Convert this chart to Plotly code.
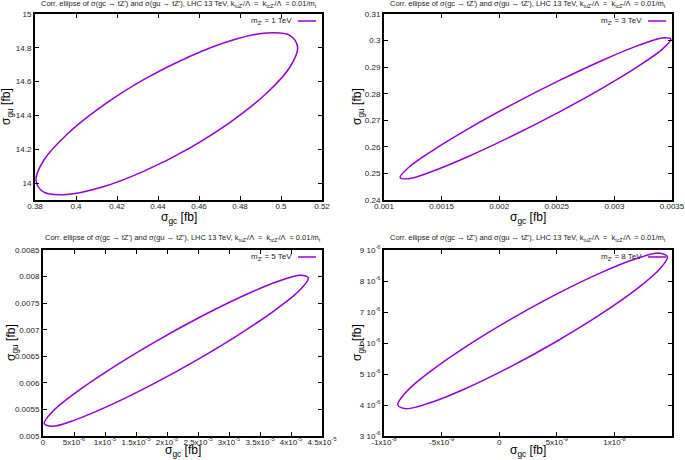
import plotly.graph_objects as go

# points (closed: first point repeated)
gc_1tev = [0.5081, 0.5043, 0.4932, 0.4762, 0.4554, 0.4332, 0.4124, 0.3954, 0.3843,
           0.3805, 0.3843, 0.3954, 0.4124, 0.4332, 0.4554, 0.4762, 0.4932, 0.5043, 0.5081]
gu_1tev = [14.803, 14.874, 14.888, 14.845, 14.749, 14.613, 14.452, 14.286, 14.135,
           14.017, 13.946, 13.932, 13.975, 14.071, 14.207, 14.368, 14.534, 14.685, 14.803]

gc_3tev = [0.003490, 0.003419, 0.003215, 0.002903, 0.002519, 0.002111, 0.001727, 0.001415, 0.001211,
           0.001140, 0.001211, 0.001415, 0.001727, 0.002111, 0.002519, 0.002903, 0.003215, 0.003419, 0.003490]
gu_3tev = [0.30052, 0.30100, 0.29829, 0.29271, 0.28493, 0.27590, 0.26669, 0.25843, 0.25211,
           0.24848, 0.24800, 0.25071, 0.25629, 0.26407, 0.27310, 0.28231, 0.29057, 0.29689, 0.30052]

gc_5tev = [4.280e-5, 4.152e-5, 3.782e-5, 3.215e-5, 2.520e-5, 1.780e-5, 1.085e-5, 0.518e-5, 0.148e-5,
           0.020e-5, 0.148e-5, 0.518e-5, 1.085e-5, 1.780e-5, 2.520e-5, 3.215e-5, 3.782e-5, 4.152e-5, 4.280e-5]
gu_5tev = [0.007975, 0.008027, 0.007907, 0.007630, 0.007230, 0.006754, 0.006260, 0.005808, 0.005452,
           0.005235, 0.005183, 0.005303, 0.005580, 0.005980, 0.006456, 0.006950, 0.007402, 0.007758, 0.007975]

gc_8tev = [14.6e-9, 13.895e-9, 11.862e-9, 8.75e-9, 4.931e-9, 0.869e-9, -2.95e-9, -6.062e-9, -8.095e-9,
           -8.8e-9, -8.095e-9, -6.062e-9, -2.95e-9, 0.869e-9, 4.931e-9, 8.75e-9, 11.862e-9, 13.895e-9, 14.6e-9]
gu_8tev = [8.777e-6, 8.898e-6, 8.717e-6, 8.255e-6, 7.568e-6, 6.739e-6, 5.868e-6, 5.060e-6, 4.412e-6,
           4.003e-6, 3.882e-6, 4.063e-6, 4.525e-6, 5.212e-6, 6.041e-6, 6.912e-6, 7.720e-6, 8.368e-6, 8.777e-6]

masses = ["1 TeV", "3 TeV", "5 TeV", "8 TeV"]

# axis ranges and ticks
x1_range = [0.38, 0.52]
x1_ticks = [0.38, 0.40, 0.42, 0.44, 0.46, 0.48, 0.50, 0.52]
x1_labels = ["0.38", "0.4", "0.42", "0.44", "0.46", "0.48", "0.5", "0.52"]
y1_range = [13.9, 15]
y1_ticks = [14, 14.2, 14.4, 14.6, 14.8, 15]
y1_labels = ["14", "14.2", "14.4", "14.6", "14.8", "15"]

x2_range = [0.001, 0.0035]
x2_ticks = [0.001, 0.0015, 0.002, 0.0025, 0.003, 0.0035]
x2_labels = ["0.001", "0.0015", "0.002", "0.0025", "0.003", "0.0035"]
y2_range = [0.24, 0.31]
y2_ticks = [0.24, 0.25, 0.26, 0.27, 0.28, 0.29, 0.30, 0.31]
y2_labels = ["0.24", "0.25", "0.26", "0.27", "0.28", "0.29", "0.3", "0.31"]

x3_range = [0, 4.5e-5]
x3_ticks = [0, 5e-6, 1e-5, 1.5e-5, 2e-5, 2.5e-5, 3e-5, 3.5e-5, 4e-5, 4.5e-5]
x3_labels = ["0", "5x10<sup>-6</sup>", "1x10<sup>-5</sup>", "1.5x10<sup>-5</sup>", "2x10<sup>-5</sup>",
             "2.5x10<sup>-5</sup>", "3x10<sup>-5</sup>", "3.5x10<sup>-5</sup>", "4x10<sup>-5</sup>",
             "4.5x10<sup>-5</sup>"]
y3_range = [0.005, 0.0085]
y3_ticks = [0.005, 0.0055, 0.006, 0.0065, 0.007, 0.0075, 0.008, 0.0085]
y3_labels = ["0.005", "0.0055", "0.006", "0.0065", "0.007", "0.0075", "0.008", "0.0085"]

x4_range = [-1e-8, 1.5e-8]
x4_ticks = [-1e-8, -5e-9, 0, 5e-9, 1e-8, 1.5e-8]
x4_labels = ["-1x10<sup>-8</sup>", "-5x10<sup>-9</sup>", "0", "5x10<sup>-9</sup>",
             "1x10<sup>-8</sup>", "1.5x10<sup>-8</sup>"]
y4_range = [3e-6, 9e-6]
y4_ticks = [3e-6, 4e-6, 5e-6, 6e-6, 7e-6, 8e-6, 9e-6]
y4_labels = ["%d 10<sup>-6</sup>" % v for v in [3, 4, 5, 6, 7, 8, 9]]

W, H = 685, 460
PURPLE = "#9400D3"
FONT = "Liberation Sans, Arial, sans-serif"

def px(x):
    return x / W

def py(y):
    return 1 - y / H

# pixel boxes of the four plot areas: (left, right, top, bottom)
boxes = [(35, 322, 14, 200), (384, 672, 14, 200), (43, 322, 250, 436), (384, 672, 250, 436)]
title_y = [4, 4, 238, 238]
ytitle_x = [7, 358, 12, 358]
xtitle_y = [218, 218, 451, 451]

panels = [
    (gc_1tev, gu_1tev, x1_range, x1_ticks, x1_labels, y1_range, y1_ticks, y1_labels),
    (gc_3tev, gu_3tev, x2_range, x2_ticks, x2_labels, y2_range, y2_ticks, y2_labels),
    (gc_5tev, gu_5tev, x3_range, x3_ticks, x3_labels, y3_range, y3_ticks, y3_labels),
    (gc_8tev, gu_8tev, x4_range, x4_ticks, x4_labels, y4_range, y4_ticks, y4_labels),
]

title = ("Corr. ellipse of σ(gc → tZ') and σ(gu → tZ'), LHC 13 TeV, "
         "k<sub>tuZ'</sub>/Λ  =  k<sub>tcZ'</sub>/Λ  = 0.01/m<sub>t</sub>")

fig = go.Figure()
annotations = []
shapes = []

for i, (gc, gu, xr, xt, xl, yr, yt, yl) in enumerate(panels):
    n = "" if i == 0 else str(i + 1)
    left, right, top, bottom = boxes[i]
    fig.add_trace(go.Scatter(
        x=gc, y=gu, mode="lines",
        line=dict(color=PURPLE, width=1.5, shape="spline", smoothing=1.0),
        xaxis="x" + n, yaxis="y" + n, showlegend=False, hoverinfo="skip"))

    axis_style = dict(showline=True, linecolor="black", linewidth=2, mirror="ticks",
                      ticks="inside", ticklen=4, tickwidth=1, tickcolor="black",
                      showgrid=False, zeroline=False, automargin=False,
                      tickfont=dict(family=FONT, size=8, color="#222"))
    fig.layout["xaxis" + n] = dict(axis_style, domain=[px(left), px(right)], range=xr,
                                   tickvals=xt, ticktext=xl, anchor="y" + n,
                                   ticklabelstandoff=-3)
    fig.layout["yaxis" + n] = dict(axis_style, domain=[py(bottom), py(top)], range=yr,
                                   tickvals=yt, ticktext=yl, anchor="x" + n)

    cx = (left + right) / 2
    annotations.append(dict(text=title, x=px(cx), y=py(title_y[i]), xref="paper", yref="paper",
                            showarrow=False, xanchor="center", yanchor="middle",
                            font=dict(family=FONT, size=7.5, color="#222")))
    annotations.append(dict(text="σ<sub>gc</sub> [fb]", x=px(cx), y=py(xtitle_y[i]),
                            xref="paper", yref="paper", showarrow=False,
                            xanchor="center", yanchor="middle",
                            font=dict(family=FONT, size=12, color="black")))
    annotations.append(dict(text="σ<sub>gu</sub> [fb]", x=px(ytitle_x[i]),
                            y=py((top + bottom) / 2), xref="paper", yref="paper",
                            showarrow=False, textangle=-90, xanchor="center", yanchor="middle",
                            font=dict(family=FONT, size=12, color="black")))
    # key entry in the upper right corner
    annotations.append(dict(text="m<sub>Z'</sub> = " + masses[i], x=px(right - 28),
                            y=py(top + 7), xref="paper", yref="paper", showarrow=False,
                            xanchor="right", yanchor="middle",
                            font=dict(family=FONT, size=8, color="#222")))
    shapes.append(dict(type="line", xref="paper", yref="paper",
                       x0=px(right - 24), x1=px(right - 6), y0=py(top + 7), y1=py(top + 7),
                       line=dict(color=PURPLE, width=1.5)))

fig.update_layout(
    width=W, height=H,
    margin=dict(l=0, r=0, t=0, b=0),
    paper_bgcolor="white", plot_bgcolor="white",
    annotations=annotations, shapes=shapes,
    font=dict(family=FONT),
)

# drop the page's default body margin so the 685x460 figure fills the window
fig.write_html("out.html", config={"displayModeBar": False},
               post_script="document.body.style.margin='0';")
